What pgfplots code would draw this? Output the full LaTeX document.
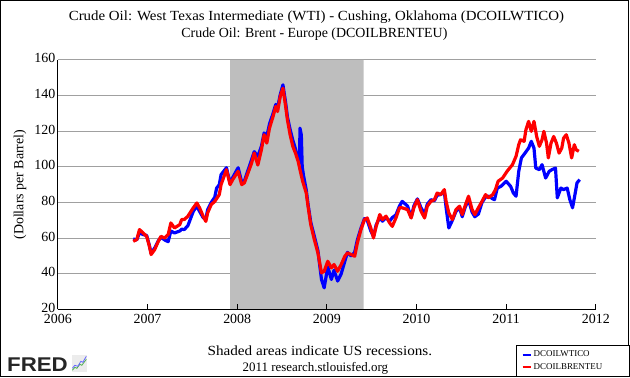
\documentclass[border=0pt]{standalone}
\usepackage{fontspec}
\setmainfont{Liberation Serif}
\newfontfamily\fredfont{Liberation Sans}
\usepackage{pgfplots}
\pgfplotsset{compat=1.18}
\definecolor{wti}{RGB}{0,0,255}
\definecolor{brent}{RGB}{255,0,0}
\definecolor{recess}{RGB}{190,190,190}
\definecolor{gridc}{RGB}{160,160,160}
\begin{document}
\begin{tikzpicture}[x=1bp,y=1bp]
\draw[black, line width=1bp] (0.5,0.5) rectangle (629.5,377.5);
\begin{axis}[
  set layers=standard,
  at={(58bp,68bp)}, anchor=south west,
  scale only axis, width=539bp, height=250bp,
  xmin=2006, xmax=2012, ymin=20, ymax=160,
  xtick={2006,2007,...,2012}, ytick={20,40,...,160},
  /pgf/number format/1000 sep={},
  /pgf/number format/assume math mode=true,
  ticklabel style={font=\fontsize{14}{16}\selectfont, inner ysep=0pt},
  yticklabel style={xshift=1bp, yshift=1.5bp},
  xticklabel style={yshift=-4.5bp},
  axis x line*=bottom, axis y line*=left,
  x axis line style={-}, y axis line style={-},
  axis line style={line width=1bp, black},
  tick align=inside, major tick length=5.5bp,
  xtick style={line width=1bp, black},
  ytick style={draw=none},
  ymajorgrids, grid style={gridc, line width=1bp},
  ylabel={(Dollars per Barrel)},
  every axis y label/.style={at={(axis description cs:-0.0705,0.5)}, rotate=90, anchor=center, font=\fontsize{14}{16}\selectfont},
  legend style={at={(axis description cs:0.852,-0.144)}, anchor=north west, font=\fontsize{9}{10}\selectfont, draw=black, line width=1bp, inner xsep=5bp, inner ysep=3bp, row sep=1.5bp, cells={anchor=west}},
  legend image code/.code={\draw[#1, line width=2bp] (0bp,0bp) -- (8bp,0bp);},
]
\addplot[fill=recess, draw=none, forget plot, on layer=axis grid] coordinates {(2007.92,20) (2007.92,160) (2009.41,160) (2009.41,20)} \closedcycle;
\addplot[wti, line width=3.2bp, line join=round] coordinates {
(2006.84,59.5)(2006.88,59)(2006.91,63)(2006.95,62)(2006.99,61.5)(2007.02,56)(2007.04,51.5)(2007.08,54.5)
(2007.12,58.5)(2007.15,60.5)(2007.19,59)(2007.23,58)(2007.26,64)(2007.30,62.9)(2007.36,64)(2007.38,65)
(2007.41,64.8)(2007.45,67)(2007.51,75)(2007.55,78)(2007.58,75)(2007.62,71.5)(2007.65,70.5)(2007.67,76)
(2007.71,80)(2007.75,83)(2007.77,88)(2007.80,90)(2007.82,95.6)(2007.88,99.5)(2007.92,91)(2007.95,94)
(2008.01,99.5)(2008.05,91.5)(2008.08,92)(2008.12,98)(2008.16,104)(2008.19,108.5)(2008.23,105.9)(2008.27,111.5)
(2008.30,119)(2008.33,117)(2008.36,124)(2008.40,130)(2008.43,135)(2008.45,133)(2008.48,140.5)(2008.51,146)
(2008.54,136)(2008.56,128)(2008.59,121)(2008.62,115)(2008.65,110)(2008.68,104)(2008.695,102)(2008.70,121.7)
(2008.715,118)(2008.725,100)(2008.74,95)(2008.77,87)(2008.79,79)(2008.82,69)(2008.86,61)(2008.90,53)
(2008.94,36.8)(2008.97,32.1)(2009.01,44)(2009.05,36.8)(2009.08,42)(2009.12,35.9)(2009.16,40)(2009.20,47)
(2009.23,52)(2009.27,50)(2009.31,52)(2009.34,59)(2009.38,65.5)(2009.42,71)(2009.45,70)(2009.49,64)
(2009.52,61)(2009.55,67.5)(2009.59,71.5)(2009.62,69.5)(2009.66,71.5)(2009.70,69.5)(2009.73,71.5)(2009.77,73)
(2009.81,78)(2009.84,80.6)(2009.90,78)(2009.94,71.5)(2009.97,78)(2010.01,82)(2010.05,77)(2010.09,73.5)
(2010.12,79)(2010.16,81.5)(2010.20,81)(2010.23,84)(2010.27,84.5)(2010.31,86)(2010.33,77)(2010.36,65.7)
(2010.40,70)(2010.44,75)(2010.48,77)(2010.51,72)(2010.54,77)(2010.58,81.5)(2010.62,74.5)(2010.65,72)
(2010.69,73.5)(2010.73,80)(2010.77,83)(2010.81,83.5)(2010.85,82)(2010.87,81.6)(2010.90,88)(2010.94,89)
(2011.00,91.9)(2011.05,89)(2011.08,85.3)(2011.11,83.5)(2011.14,97.5)(2011.17,105)(2011.21,107.7)(2011.25,110.5)
(2011.28,114.3)(2011.31,110.5)(2011.33,99.3)(2011.37,98.4)(2011.40,101.2)(2011.44,93.7)(2011.48,97.5)(2011.51,98.4)
(2011.55,99.3)(2011.57,82.6)(2011.61,88.1)(2011.64,87.2)(2011.68,88.1)(2011.71,81.6)(2011.74,77)(2011.77,85.3)
(2011.79,91)(2011.82,92.8)
};
\addlegendentry{\makebox[89bp][l]{DCOILWTICO}}
\addplot[brent, line width=3.2bp, line join=round] coordinates {
(2006.84,58.2)(2006.88,59.2)(2006.91,64.8)(2006.95,62.9)(2006.99,61)(2007.02,55.5)(2007.04,50.8)(2007.08,53.6)
(2007.12,58.2)(2007.15,61)(2007.19,60)(2007.23,62)(2007.26,68.5)(2007.30,65.7)(2007.36,67.6)(2007.38,70.4)
(2007.41,70.4)(2007.45,72.3)(2007.51,77)(2007.55,79.7)(2007.58,77)(2007.62,72.3)(2007.65,69.4)(2007.67,74.1)
(2007.71,78.8)(2007.75,80.6)(2007.80,84.4)(2007.82,90)(2007.88,98.4)(2007.92,90)(2007.95,92.8)(2008.01,97.5)
(2008.05,90)(2008.08,91)(2008.12,96.5)(2008.16,102)(2008.19,107.7)(2008.23,101)(2008.27,109.6)(2008.30,118)
(2008.33,113.3)(2008.36,121.7)(2008.40,128.3)(2008.43,133.9)(2008.45,131)(2008.48,139.5)(2008.51,144.1)(2008.54,133.9)
(2008.56,126.4)(2008.59,118)(2008.62,111.5)(2008.65,107.7)(2008.68,103)(2008.70,98.4)(2008.73,91.9)(2008.77,85.3)
(2008.79,77.9)(2008.82,67.6)(2008.86,59.2)(2008.90,51.7)(2008.94,40.5)(2008.97,41.4)(2009.01,47)(2009.05,43.3)
(2009.08,45.2)(2009.12,41.4)(2009.16,45.2)(2009.20,49.8)(2009.23,51.7)(2009.27,50.8)(2009.31,49.8)(2009.34,57.3)
(2009.38,64.8)(2009.42,70.4)(2009.45,71.3)(2009.49,65.7)(2009.52,60.1)(2009.55,66.6)(2009.59,73.2)(2009.62,70.4)
(2009.66,72.3)(2009.70,68.5)(2009.73,66.6)(2009.77,71.3)(2009.81,77)(2009.84,77)(2009.90,76)(2009.94,71.3)
(2009.97,77)(2010.01,81.6)(2010.05,75.1)(2010.09,71.3)(2010.12,77.9)(2010.16,80.6)(2010.20,81.6)(2010.23,85.3)
(2010.27,84.4)(2010.31,87.2)(2010.33,80.6)(2010.36,74.1)(2010.40,70.4)(2010.44,76)(2010.48,77.9)(2010.51,73.2)
(2010.54,77.9)(2010.58,83.5)(2010.62,76)(2010.65,73.2)(2010.69,77)(2010.73,80.6)(2010.77,84.4)(2010.80,82.6)
(2010.85,84.4)(2010.88,87.2)(2010.91,91.9)(2010.96,93.7)(2011.01,97.5)(2011.07,101.2)(2011.11,105.9)(2011.14,112.4)
(2011.16,115.2)(2011.20,114.3)(2011.22,120.8)(2011.25,125.5)(2011.28,119.9)(2011.31,125.5)(2011.34,117)(2011.37,111.5)
(2011.40,115.2)(2011.42,119.9)(2011.45,113.3)(2011.47,105)(2011.50,113.3)(2011.53,117)(2011.56,113.3)(2011.59,107.7)
(2011.62,110.5)(2011.64,116.1)(2011.67,118)(2011.70,113.3)(2011.73,105)(2011.76,112.4)(2011.78,109.6)(2011.81,108.7)
};
\addlegendentry{\makebox[89bp][l]{DCOILBRENTEU}}
\end{axis}
\node[anchor=base, font=\fontsize{14}{16}\selectfont] at (317,357.5) {\scalebox{1.07}[1]{Crude Oil: West Texas Intermediate (WTI) - Cushing, Oklahoma (DCOILWTICO)}};
\node[anchor=base, font=\fontsize{14}{16}\selectfont] at (315,340.5) {Crude Oil: Brent - Europe (DCOILBRENTEU)};
\node[anchor=base, font=\fontsize{14}{16}\selectfont] at (320.5,22) {\scalebox{1.09}[1]{Shaded areas indicate US recessions.}};
\node[anchor=base, font=\fontsize{13}{15}\selectfont] at (316,6) {2011 research.stlouisfed.org};
\node[anchor=base west, inner sep=0pt, text=black!85] at (7,5.5) {\scalebox{1.12}[1]{\fredfont\bfseries\fontsize{20}{20}\selectfont FRED}};
\fill[gray!15] (72,5) rectangle (87,22);
\draw[green!55!black!70, line width=0.8bp] (72.5,7) -- (75,10) -- (77,9) -- (80,13) -- (82,12) -- (86.5,18);
\draw[blue!60, line width=0.8bp] (72.5,9) -- (75,12) -- (78,11) -- (81,16) -- (83,15) -- (86.5,21);
\path (0,0) (630,378);
\end{tikzpicture}
\end{document}
